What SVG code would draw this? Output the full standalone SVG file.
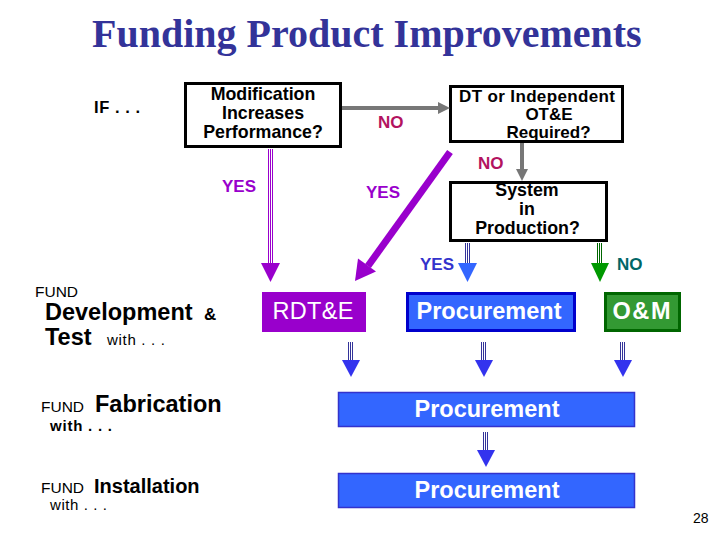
<svg xmlns="http://www.w3.org/2000/svg" width="720" height="540" viewBox="0 0 720 540">
<style>
text{font-family:"Liberation Sans",Arial,sans-serif}
.t{font-family:"Liberation Serif","Times New Roman",serif;font-weight:bold;font-size:40px;fill:#333399}
.q{font-weight:bold;font-size:17.8px;fill:#000;text-anchor:middle}
.q2{font-size:17px}
.box{fill:#fff;stroke:#000;stroke-width:3}
.lbl{font-weight:bold;font-size:17px}
.w{fill:#fff;font-size:23.5px;text-anchor:middle}
.b{font-weight:bold}
.blk{fill:#000}
.gray{stroke:#777;stroke-width:4;fill:none}
.pu{stroke:#9900CC;stroke-width:1}
.bl{stroke:#333399;stroke-width:1}
.gr{stroke:#006600;stroke-width:1}
</style>
<rect width="720" height="540" fill="#fff"/>
<text class="t" x="92" y="47">Funding Product Improvements</text>
<text class="blk b" x="94" y="113" font-size="16.5" textLength="46" lengthAdjust="spacing">IF . . .</text>

<g id="q1">
<rect class="box" x="185.5" y="83.5" width="155" height="63"/>
<text class="q" x="263" y="100">Modification</text>
<text class="q" x="263" y="119">Increases</text>
<text class="q" x="263" y="138">Performance?</text>
</g>
<g id="q2">
<rect class="box" x="450.5" y="86.5" width="172" height="55"/>
<text class="q q2" x="537" y="102" textLength="156" lengthAdjust="spacing">DT or Independent</text>
<text class="q q2" x="549" y="120">OT&amp;E</text>
<text class="q q2" x="548.5" y="138">Required?</text>
</g>
<g id="q3">
<rect class="box" x="450.5" y="182.5" width="156" height="58"/>
<text class="q" x="527" y="196">System</text>
<text class="q" x="527" y="215">in</text>
<text class="q" x="527.5" y="234">Production?</text>
</g>

<g id="rdte">
<rect x="262" y="292" width="104" height="40" fill="#9900CC"/>
<text class="w" x="313" y="319" font-size="23" textLength="81" lengthAdjust="spacing">RDT&amp;E</text>
</g>
<g id="proc1">
<rect x="407.5" y="293.5" width="167" height="37" fill="#3366FF" stroke="#0000CC" stroke-width="3"/>
<text class="w b" x="489" y="319">Procurement</text>
</g>
<g id="om">
<rect x="605.5" y="293.5" width="74" height="37" fill="#339933" stroke="#006600" stroke-width="3"/>
<text class="w b" x="641.5" y="319" textLength="58" lengthAdjust="spacing">O&amp;M</text>
</g>
<g id="proc2">
<rect x="338.5" y="392.5" width="296" height="34" fill="#3366FF" stroke="#3333CC" stroke-width="1.5"/>
<text class="w b" x="487" y="417" font-size="24">Procurement</text>
</g>
<g id="proc3">
<rect x="338.5" y="473.5" width="296" height="34" fill="#3366FF" stroke="#3333CC" stroke-width="1.5"/>
<text class="w b" x="487" y="498" font-size="24">Procurement</text>
</g>

<g id="left">
<text class="blk" x="35" y="297" font-size="15.5">FUND</text>
<text class="blk b" x="45" y="320" font-size="23.5">Development</text>
<text class="blk b" x="204" y="320" font-size="17">&amp;</text>
<text class="blk b" x="45" y="345" font-size="23.5">Test</text>
<text class="blk" x="107" y="345" font-size="15" textLength="58" lengthAdjust="spacing">with . . .</text>
<text class="blk" x="41" y="412" font-size="15.5">FUND</text>
<text class="blk b" x="95" y="412" font-size="23.5">Fabrication</text>
<text class="blk b" x="50" y="431" font-size="15" textLength="62" lengthAdjust="spacing">with . . .</text>
<text class="blk" x="41" y="493" font-size="15.5">FUND</text>
<text class="blk b" x="94" y="493" font-size="20">Installation</text>
<text class="blk" x="50" y="510" font-size="15" textLength="57" lengthAdjust="spacing">with . . .</text>
</g>

<g id="connectors">
<line class="gray" x1="342" y1="108" x2="440" y2="108"/>
<polygon points="438,102 450,108 438,114" fill="#777"/>
<line class="gray" x1="522" y1="143" x2="522" y2="171"/>
<polygon points="516,169 528,169 522,181" fill="#777"/>

<line class="pu" x1="268.5" y1="149" x2="268.5" y2="264"/>
<line class="pu" x1="270.5" y1="149" x2="270.5" y2="264"/>
<line class="pu" x1="272.5" y1="149" x2="272.5" y2="264"/>
<polygon points="261,263 280,263 270.5,282" fill="#9900CC"/>

<line x1="450" y1="152" x2="368" y2="266" stroke="#9900CC" stroke-width="7"/>
<polygon points="355,281 376,271.5 358,258.5" fill="#9900CC"/>

<line class="bl" x1="465.5" y1="243" x2="465.5" y2="264"/>
<line class="bl" x1="467.5" y1="243" x2="467.5" y2="264"/>
<line class="bl" x1="469.5" y1="243" x2="469.5" y2="264"/>
<polygon points="458,263 477,263 467.5,282" fill="#3366FF"/>

<line class="gr" x1="597.5" y1="243" x2="597.5" y2="264"/>
<line class="gr" x1="599.5" y1="243" x2="599.5" y2="264"/>
<line class="gr" x1="601.5" y1="243" x2="601.5" y2="264"/>
<polygon points="591,263 609,263 600,282" fill="#009900"/>

<line class="bl" x1="348.5" y1="342" x2="348.5" y2="361"/>
<line class="bl" x1="350.5" y1="342" x2="350.5" y2="361"/>
<line class="bl" x1="352.5" y1="342" x2="352.5" y2="361"/>
<polygon points="342,360 360,360 351,377" fill="#3333EE"/>

<line class="bl" x1="481.5" y1="342" x2="481.5" y2="361"/>
<line class="bl" x1="483.5" y1="342" x2="483.5" y2="361"/>
<line class="bl" x1="485.5" y1="342" x2="485.5" y2="361"/>
<polygon points="475,360 493,360 484,377" fill="#3333EE"/>

<line class="bl" x1="620.5" y1="342" x2="620.5" y2="361"/>
<line class="bl" x1="622.5" y1="342" x2="622.5" y2="361"/>
<line class="bl" x1="624.5" y1="342" x2="624.5" y2="361"/>
<polygon points="614,360 632,360 623,377" fill="#3333EE"/>

<line class="bl" x1="483.5" y1="432" x2="483.5" y2="451"/>
<line class="bl" x1="485.5" y1="432" x2="485.5" y2="451"/>
<line class="bl" x1="487.5" y1="432" x2="487.5" y2="451"/>
<polygon points="477,450 495,450 486,467" fill="#3333EE"/>

<text class="lbl" x="378" y="128" fill="#B3135F" font-size="16">NO</text>
<text class="lbl" x="478" y="169" fill="#B3135F" font-size="16">NO</text>
<text class="lbl" x="222" y="192" fill="#9900CC">YES</text>
<text class="lbl" x="366" y="198" fill="#9900CC">YES</text>
<text class="lbl" x="420" y="270" fill="#3333CC" font-size="16">YES</text>
<text class="lbl" x="617" y="270" fill="#006666" font-size="16">NO</text>
</g>
<text class="blk" x="693" y="523" font-size="14">28</text>
</svg>
